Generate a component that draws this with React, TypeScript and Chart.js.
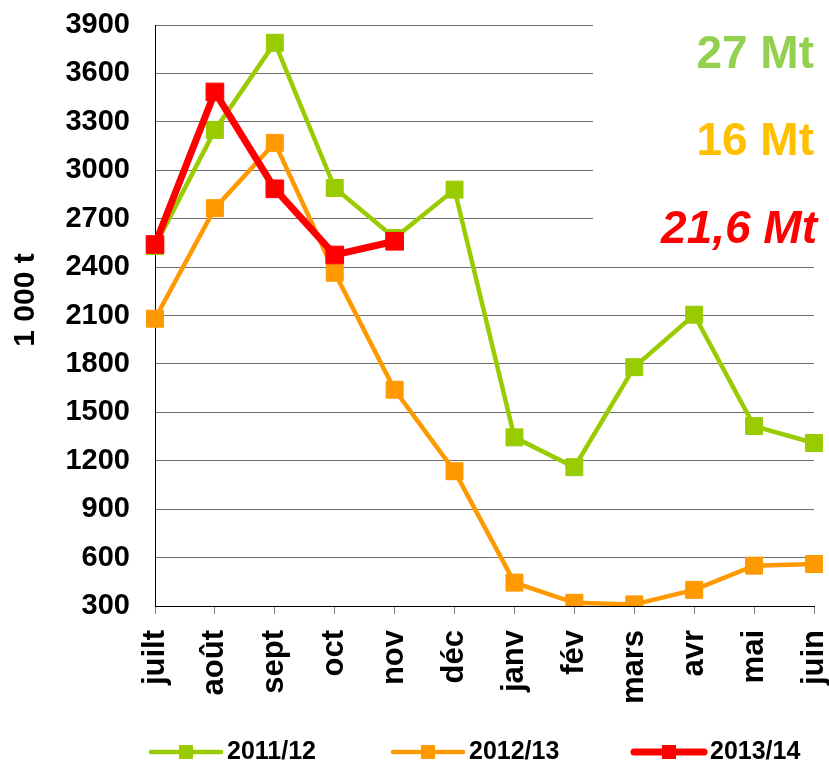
import React, { useEffect, useRef } from "react";
import { Chart, registerables } from "chart.js";

Chart.register(...registerables);

const months = ["juilt", "août", "sept", "oct", "nov", "déc", "janv", "fév", "mars", "avr", "mai", "juin"];
const s2011 = [2530, 3250, 3790, 2890, 2580, 2880, 1345, 1160, 1780, 2105, 1415, 1310];
const s2012 = [2080, 2765, 3170, 2365, 1640, 1135, 445, 320, 310, 400, 550, 560];
const s2013 = [2540, 3485, 2885, 2475, 2560];
const seriesNames = ["2011/12", "2012/13", "2013/14"];
const seriesColors = ["#99CC00", "#FF9900", "#FF0000"];
const totals = ["27 Mt", "16 Mt", "21,6 Mt"];
const totalColors = ["#92D050", "#FFC000", "#FF0000"];
const yTitle = "1 000 t";

const FONT = '"Liberation Sans", Arial, sans-serif';

const overlayPlugin = {
  id: "overlay",
  beforeDatasetsDraw(chart: any) {
    const ctx = chart.ctx;
    ctx.save();
    ctx.fillStyle = "#ffffff";
    ctx.fillRect(593, 0, chart.width - 593, 255);
    ctx.restore();
  },
  afterDraw(chart: any) {
    const ctx = chart.ctx;
    ctx.save();
    ctx.translate(26, 300);
    ctx.rotate(-Math.PI / 2);
    ctx.font = `bold 30px ${FONT}`;
    ctx.fillStyle = "#000";
    ctx.textAlign = "center";
    ctx.textBaseline = "middle";
    ctx.fillText(yTitle, 0, 0);
    ctx.restore();

    const ty = [55, 142, 230];
    ctx.save();
    ctx.textAlign = "right";
    ctx.textBaseline = "middle";
    totals.forEach((t, i) => {
      ctx.font = `${i === 2 ? "italic " : ""}bold 46px ${FONT}`;
      ctx.fillStyle = totalColors[i];
      ctx.fillText(t, i === 2 ? 817 : 814, ty[i]);
    });
    ctx.restore();

    const lx = [151, 393, 634];
    const ly = 752;
    ctx.save();
    seriesNames.forEach((name, i) => {
      const x0 = lx[i];
      const x1 = x0 + 70;
      ctx.strokeStyle = seriesColors[i];
      ctx.lineWidth = i === 2 ? 7 : 4.5;
      ctx.lineCap = "round";
      ctx.beginPath();
      ctx.moveTo(x0, ly);
      ctx.lineTo(x1, ly);
      ctx.stroke();
      ctx.fillStyle = seriesColors[i];
      const cx = (x0 + x1) / 2;
      ctx.fillRect(cx - 7, ly - 7, 14, 14);
      ctx.fillStyle = "#000";
      ctx.font = `bold 25px ${FONT}`;
      ctx.textAlign = "left";
      ctx.textBaseline = "middle";
      ctx.fillText(name, x1 + 6, ly);
    });
    ctx.restore();
  },
};

export default function App() {
  const ref = useRef<HTMLCanvasElement | null>(null);
  useEffect(() => {
    if (!ref.current) return;
    const mk = (i: number, data: number[], width: number, radius: number, order: number) => ({
      label: seriesNames[i],
      data,
      borderColor: seriesColors[i],
      backgroundColor: seriesColors[i],
      borderWidth: width,
      pointStyle: "rect",
      pointRadius: radius,
      pointBorderWidth: 1,
      pointBorderColor: seriesColors[i],
      pointBackgroundColor: seriesColors[i],
      tension: 0,
      order,
    });
    const chart = new Chart(ref.current, {
      type: "line",
      data: {
        labels: months,
        datasets: [mk(0, s2011, 4.5, 12, 3), mk(1, s2012, 4.5, 12, 2), mk(2, s2013, 7, 12.5, 1)],
      },
      options: {
        animation: false,
        responsive: true,
        maintainAspectRatio: false,
        layout: { padding: { top: 25, right: 15, left: 0, bottom: 0 } },
        plugins: { legend: { display: false }, tooltip: { enabled: false } },
        scales: {
          x: {
            type: "category",
            offset: false,
            grid: {
              display: true,
              drawOnChartArea: false,
              drawTicks: true,
              tickLength: 8,
              color: "#808080",
            },
            border: { color: "#000", width: 1 },
            ticks: {
              autoSkip: false,
              minRotation: 90,
              maxRotation: 90,
              padding: 16,
              color: "#000",
              font: { family: FONT, size: 31, weight: "bold" },
            },
            afterFit: (scale: any) => {
              scale.height = 157;
              scale.paddingLeft = 0;
              scale.paddingRight = 0;
            },
          },
          y: {
            min: 300,
            max: 3900,
            grid: { color: "#6e6e6e", drawTicks: false, lineWidth: 1 },
            border: { color: "#000", width: 1 },
            ticks: {
              stepSize: 300,
              padding: 25,
              color: "#000",
              font: { family: FONT, size: 29, weight: "bold" },
              callback: (v: any) => String(v),
            },
            afterFit: (scale: any) => {
              scale.width = 155;
              scale.paddingTop = 0;
              scale.paddingBottom = 0;
            },
          },
        },
      },
      plugins: [overlayPlugin],
    } as any);
    return () => chart.destroy();
  }, []);
  return (
    <div style={{ position: "fixed", left: 0, top: 0, width: 829, height: 763, background: "#fff" }}>
      <canvas ref={ref} />
    </div>
  );
}
